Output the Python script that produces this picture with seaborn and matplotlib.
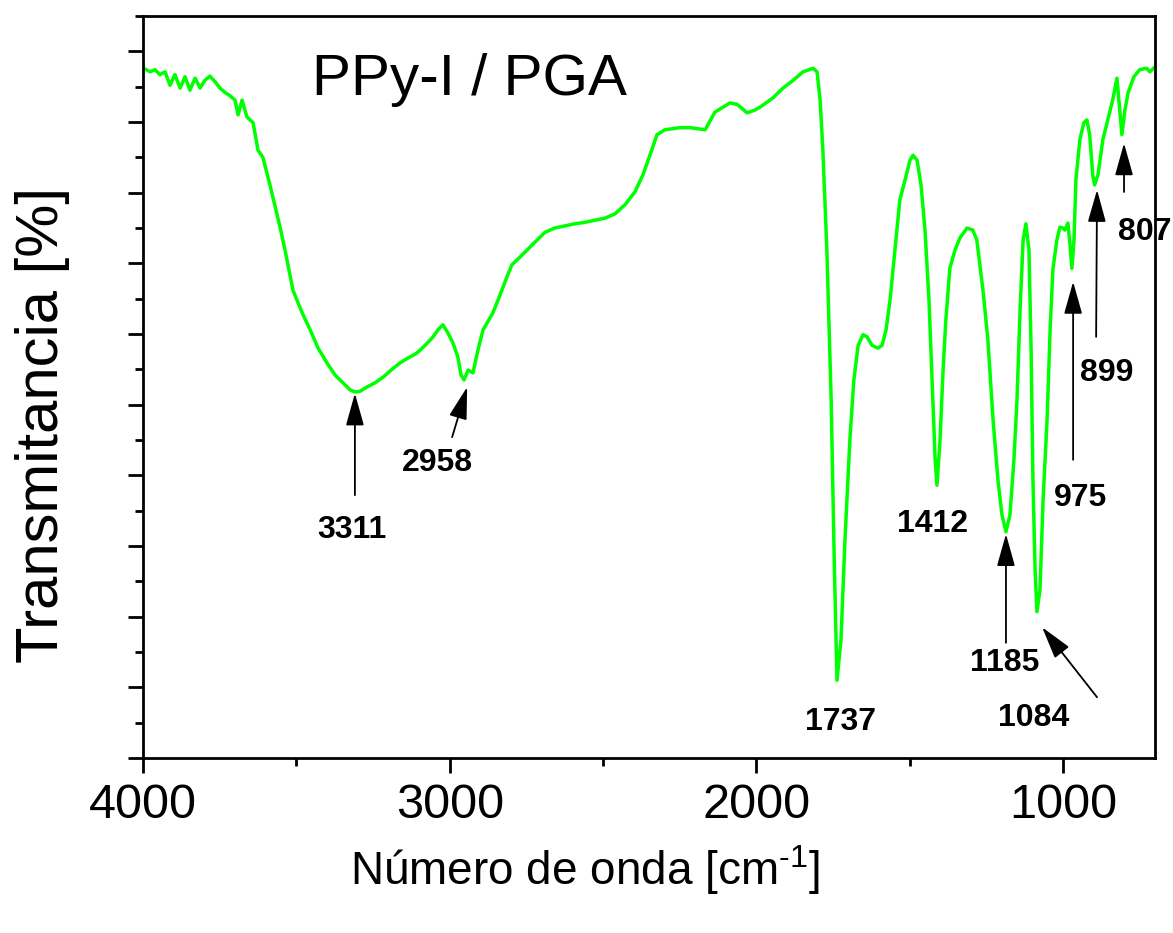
import numpy as np
import pandas as pd
import matplotlib
matplotlib.use("Agg")
import matplotlib.pyplot as plt
import seaborn as sns
from matplotlib.ticker import MultipleLocator

# ---- data ----
wavenumber = [4000, 3993, 3977, 3961, 3945, 3928, 3912, 3896, 3879, 3863, 3847, 3830,
              3814, 3798, 3782, 3765, 3749, 3733, 3716, 3700, 3690, 3677, 3661, 3641,
              3625, 3609, 3586, 3553, 3537, 3511, 3482, 3455, 3429, 3400, 3374, 3348,
              3325, 3309, 3292, 3270, 3243, 3217, 3188, 3162, 3136, 3107, 3080, 3054,
              3038, 3022, 3005, 2989, 2973, 2963, 2953, 2940, 2924, 2908, 2891, 2859,
              2836, 2813, 2797, 2780, 2754, 2722, 2689, 2657, 2624, 2591, 2559, 2526,
              2493, 2461, 2428, 2396, 2370, 2347, 2324, 2298, 2249, 2216, 2184, 2167,
              2135, 2109, 2086, 2063, 2030, 2004, 1988, 1946, 1913, 1880, 1848, 1815,
              1802, 1792, 1783, 1770, 1756, 1746, 1737, 1724, 1711, 1695, 1682, 1668,
              1652, 1639, 1623, 1603, 1590, 1577, 1564, 1548, 1532, 1515, 1499, 1489,
              1476, 1463, 1450, 1437, 1427, 1417, 1411, 1401, 1391, 1382, 1369, 1352,
              1336, 1313, 1294, 1281, 1261, 1245, 1228, 1212, 1199, 1186, 1173, 1160,
              1150, 1140, 1130, 1121, 1111, 1104, 1098, 1091, 1085, 1075, 1065, 1052,
              1042, 1033, 1020, 1010, 1000, 994, 984, 977, 971, 964, 958, 945, 932,
              922, 913, 903, 897, 886, 870, 854, 838, 824, 815, 808, 798, 788, 769,
              750, 727, 717, 700]
transmittance = [97.6, 97.5, 97.1, 97.4, 96.7, 97.1, 95.2, 96.7, 94.8, 96.4, 94.5, 96.2,
                 94.8, 95.9, 96.5, 95.7, 94.8, 94.2, 93.7, 93.1, 91.0, 93.1, 90.7, 89.9,
                 86.0, 85.0, 81.1, 75.1, 71.9, 66.2, 63.1, 60.6, 58.0, 55.9, 54.2, 53.1,
                 52.1, 51.8, 51.9, 52.5, 53.1, 53.9, 55.0, 55.9, 56.6, 57.3, 58.4, 59.6,
                 60.6, 61.3, 60.1, 58.7, 56.7, 54.2, 53.5, 54.9, 54.5, 57.7, 60.6, 63.0,
                 65.5, 68.1, 69.8, 70.5, 71.6, 73.0, 74.4, 75.0, 75.3, 75.6, 75.8, 76.1,
                 76.4, 77.0, 78.3, 80.1, 82.5, 85.3, 88.2, 88.9, 89.2, 89.2, 89.0, 88.9,
                 91.4, 92.1, 92.7, 92.5, 91.3, 91.7, 92.1, 93.4, 94.8, 95.9, 97.1, 97.6,
                 97.1, 93.1, 86.0, 71.9, 50.7, 28.0, 11.0, 16.7, 30.8, 45.0, 53.5, 58.4,
                 59.9, 59.6, 58.4, 58.0, 58.4, 60.6, 64.8, 71.9, 79.0, 81.8, 84.6, 85.3,
                 84.6, 81.1, 74.7, 64.8, 53.5, 42.3, 38.6, 45.0, 54.9, 62.0, 69.3, 71.9,
                 73.6, 75.0, 74.7, 73.3, 66.2, 59.2, 47.8, 39.3, 34.4, 32.0, 34.4, 42.2,
                 50.7, 63.4, 73.3, 75.6, 71.9, 57.7, 39.3, 26.6, 20.7, 23.8, 36.5, 47.8,
                 60.6, 69.1, 73.3, 75.1, 75.0, 74.7, 75.7, 72.6, 69.3, 73.3, 81.8, 87.5,
                 89.9, 90.3, 88.2, 82.5, 81.1, 82.5, 87.5, 90.3, 93.1, 96.2, 91.7, 88.2,
                 91.7, 94.1, 96.4, 97.4, 97.6, 97.1, 97.8]

peak_labels = ["3311", "2958", "1737", "1412", "1185", "1084", "975", "899", "807"]
sample_name = "PPy-I / PGA"
x_label = "Número de onda [cm$^{\\text{-}\\mathregular{1}}$]"
y_label = "Transmitancia [%]"

# ---- style ----
sns.set_theme(style="ticks")
plt.rcParams["font.family"] = ["Liberation Sans", "DejaVu Sans"]
plt.rcParams["mathtext.fontset"] = "custom"
plt.rcParams["mathtext.rm"] = "Liberation Sans"
plt.rcParams["mathtext.it"] = "Liberation Sans:italic"
plt.rcParams["mathtext.bf"] = "Liberation Sans:bold"
plt.rcParams["text.color"] = "black"
plt.rcParams["axes.labelcolor"] = "black"
plt.rcParams["xtick.color"] = "black"
plt.rcParams["ytick.color"] = "black"

fig = plt.figure(figsize=(11.73, 9.33), dpi=100)
ax = fig.add_axes([143 / 1173, 1 - 758 / 933, (1155 - 143) / 1173, (758 - 16) / 933])

df = pd.DataFrame({"wn": wavenumber, "T": transmittance})
sns.lineplot(data=df, x="wn", y="T", sort=False, color="#00ff00", lw=2.5, ax=ax)

ax.set_xlim(4000, 700)
ax.set_ylim(0, 105)
ax.xaxis.set_major_locator(MultipleLocator(1000))
ax.xaxis.set_minor_locator(MultipleLocator(500))
ax.yaxis.set_major_locator(MultipleLocator(10))
ax.yaxis.set_minor_locator(MultipleLocator(5))
ax.tick_params(axis="both", which="both", direction="out", width=2, color="black")
ax.tick_params(axis="both", which="major", length=11)
ax.tick_params(axis="both", which="minor", length=6)
ax.tick_params(axis="y", which="both", labelleft=False)
ax.tick_params(axis="x", which="major", labelsize=35, pad=7)
for s in ax.spines.values():
    s.set_visible(True)
    s.set_linewidth(2)
    s.set_color("black")

ax.set_xlabel(x_label, fontsize=33)
ax.xaxis.set_label_coords((585 - 143) / 1012, -(870 - 758) / 742, transform=ax.transAxes)
ax.xaxis.label.set_va("center")
ax.set_ylabel(y_label, fontsize=43)
ax.yaxis.set_label_coords(-(143 - 43) / 1012, (758 - 425) / 742, transform=ax.transAxes)
ax.yaxis.label.set_va("center")

ax.text(2934, 95.9, sample_name, fontsize=42, ha="center", va="center")

# label positions (x, y) and arrows (tail, tip) in data coords
label_pos = [(3318, 32.3), (3041, 41.7), (1727, 5.1), (1427, 33.1), (1189, 13.4),
             (1096, 5.7), (944, 36.8), (857, 54.5), (733, 74.4)]
arrows = {
    "3311": ((3309, 37.2), (3309, 51.6)),
    "2958": ((2992, 45.4), (2943, 52.5)),
    "1185": ((1186, 16.3), (1186, 31.7)),
    "1084": ((889, 8.6), (1068, 18.5)),
    "975": ((967, 42.2), (967, 67.4)),
    "899": ((892, 59.6), (889, 80.4)),
    "807": ((801, 80.1), (801, 87.0)),
}
for lab, (tx, ty) in zip(peak_labels, label_pos):
    ax.text(tx, ty, lab, fontsize=23, fontweight="bold", ha="center", va="center",
            clip_on=False)
    if lab in arrows:
        tail, tip = arrows[lab]
        ax.annotate("", xy=tip, xytext=tail,
                    arrowprops=dict(arrowstyle="-|>,head_length=1.0,head_width=0.28",
                                    lw=1.3, color="black", mutation_scale=20,
                                    shrinkA=0, shrinkB=0))

fig.savefig("out.png", dpi=100)
